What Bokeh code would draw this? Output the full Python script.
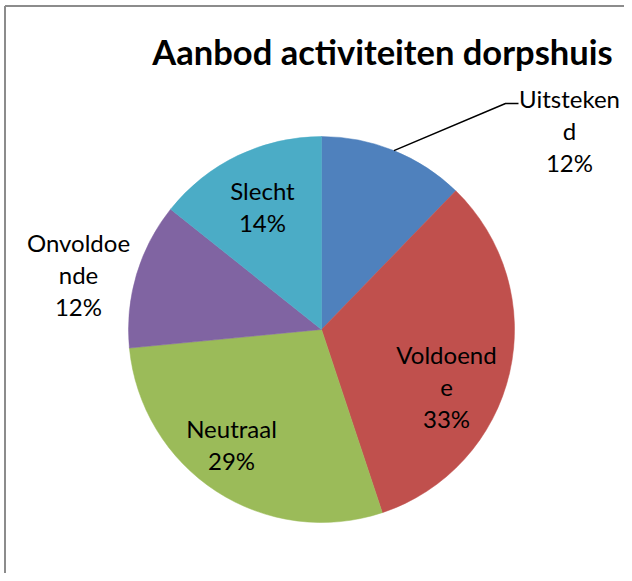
import math
from bokeh.plotting import figure
from bokeh.models import Range1d, ColumnDataSource
from bokeh.core.properties import value
from bokeh.embed import file_html
from bokeh.resources import INLINE

# ---- data ----
title_text = "Aanbod activiteiten dorpshuis"
categories = ["Uitstekend", "Voldoende", "Neutraal", "Onvoldoende", "Slecht"]
label_names = ["Uitsteken\nd", "Voldoend\ne", "Neutraal", "Onvoldoe\nnde", "Slecht"]
counts = [6, 16, 14, 6, 7]
colors = ["#4F81BD", "#C0504D", "#9BBB59", "#8064A2", "#4BACC6"]

# ---- layout (reference pixels, y downwards) ----
W, H = 624, 573
def py(Y):
    return H - Y

CX, CY, R = 321, py(329), 193
label_pos = {
    "Uitstekend": (569, 130),
    "Voldoende": (446, 386),
    "Neutraal": (231, 444),
    "Onvoldoende": (78, 274),
    "Slecht": (262, 206),
}
FONT = "Lato"

total = sum(counts)
fracs = [c / total for c in counts]
cum = [0.0]
for f in fracs:
    cum.append(cum[-1] + f)
start = [math.pi / 2 - 2 * math.pi * cum[i] for i in range(len(counts))]
end = [math.pi / 2 - 2 * math.pi * cum[i + 1] for i in range(len(counts))]
pct = [f"{round(f * 100)}%" for f in fracs]

p = figure(width=W, height=H, output_backend="svg", toolbar_location=None,
           x_range=Range1d(0, W), y_range=Range1d(0, H), min_border=0,
           background_fill_color="white", border_fill_color="white")
p.axis.visible = False
p.grid.visible = False
p.outline_line_color = None

src = ColumnDataSource(dict(cat=categories, start=start, end=end, color=colors))
p.wedge(x=CX, y=CY, radius=R, start_angle="start", end_angle="end",
        direction="clock", fill_color="color", line_color="color", line_width=0.5,
        source=src)

# chart border (top and left visible in frame)
p.line(x=[4.5, 4.5], y=[py(5.5), 0], line_color="#8C8C8C", line_width=2)
p.line(x=[4.5, W], y=[py(5.5), py(5.5)], line_color="#8C8C8C", line_width=2)

# title
p.text(x=[382], y=[py(51)], text=[title_text], text_font=value(FONT),
       text_font_style="bold", text_font_size="34.5px", text_align="center",
       text_baseline="middle", text_color="black")

# labels
lx = [label_pos[c][0] for c in categories]
ly = [py(label_pos[c][1]) for c in categories]
ltxt = [f"{n}\n{pc}" for n, pc in zip(label_names, pct)]
p.text(x=lx, y=ly, text=ltxt, text_font=value(FONT), text_font_size="24px",
       text_align="center", text_baseline="middle", text_line_height=1.1,
       text_color="black")

# leader line for Uitstekend
mid = (start[0] + end[0]) / 2
ex, ey = CX + R * math.cos(mid), CY + R * math.sin(mid)
p.line(x=[ex, 505, 518], y=[ey, py(103), py(103)], line_color="black", line_width=1.5)

open("out.html", "w").write(file_html(p, INLINE))
